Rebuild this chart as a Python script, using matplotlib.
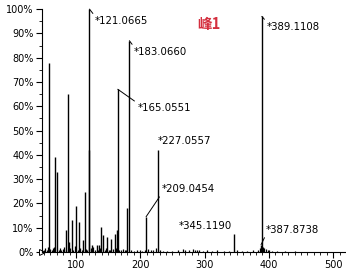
import numpy as np
import matplotlib.pyplot as plt
from matplotlib.ticker import MultipleLocator, FuncFormatter

plt.rcParams['font.family'] = ['DejaVu Sans']

# main peaks (m/z, relative intensity %)
mz_main = [58.3, 67.7, 70.8, 85.0, 88.0, 89.5, 94.0, 100.5, 105.0, 111.0,
           113.5, 119.8, 121.0665, 125.0, 132.0, 136.0, 139.5, 142.7, 149.0,
           155.0, 161.0, 164.5, 165.0551, 180.0, 183.0660, 209.0454,
           227.0557, 345.1190, 387.8738, 389.1108]
int_main = [78, 39, 33, 9, 65, 4, 13, 19, 12.5, 5,
            24.5, 42, 100, 3, 3, 3, 10.5, 7, 6,
            5.5, 7.5, 9, 67, 18, 87, 14.5,
            42, 7.5, 3, 97]

# baseline noise peaks
mz_noise = [50, 52, 55, 57, 60, 62, 64, 66, 73, 75, 77, 80, 82, 84, 91, 96,
            98, 103, 107, 109, 115, 117, 123, 127, 129, 134, 138, 145, 147,
            151, 153, 158, 163, 167, 170, 173, 176, 178, 186, 190, 195, 199,
            203, 207, 212, 216, 220, 225, 230, 236, 242, 250, 258, 266, 270,
            276, 282, 285, 288, 292, 297, 304, 312, 320, 330, 338, 350, 358,
            366, 375, 383, 386, 391, 393, 395, 398, 401, 405, 412, 425, 440]
int_noise = [1, 1.5, 0.8, 2, 1.2, 0.8, 1.5, 2, 1, 1.5, 0.8, 1.2, 2, 1, 1.5,
             1, 2.5, 1, 1.5, 0.8, 1.2, 1, 1.5, 2, 1, 0.8, 1.5, 1, 1.5,
             0.8, 1, 1.2, 1.5, 1, 0.8, 1.2, 1, 0.8, 1, 0.6, 0.8, 1,
             0.6, 0.8, 1.2, 1, 0.8, 1.5, 0.8, 0.6, 0.5, 0.6, 0.8, 1.2, 1,
             1, 1.2, 1, 0.8, 1, 0.6, 1, 0.6, 0.8, 0.5, 0.6, 0.8, 0.6,
             0.6, 0.8, 1, 1.5, 2, 1.5, 1.2, 1, 0.8, 0.6, 0.5, 0.4, 0.4]

# labelled peaks: (m/z, intensity, text x, text y, leader anchor)
labels = [
    (121.0665, 100, 129.7, 95.0, (0, 1)),
    (183.0660, 87, 190.6, 82.3, (0, 1)),
    (165.0551, 67, 195.3, 59.3, (0, 1)),
    (227.0557, 42, 226.6, 45.7, None),
    (209.0454, 14.5, 232.8, 25.9, (0, 0)),
    (345.1190, 7.5, 259.4, 10.7, None),
    (387.8738, 3, 395.3, 9.1, (0, 0)),
    (389.1108, 97, 396.9, 92.6, (0, 1)),
]

fig = plt.figure(figsize=(3.46, 2.72), dpi=100)
ax = fig.add_axes([0.121, 0.0735, 0.879, 0.893])

ax.vlines(mz_noise, 0, int_noise, color='black', lw=0.9)
ax.vlines(mz_main, 0, int_main, color='black', lw=1.0)

for mz, h, tx, ty, rp in labels:
    if rp is None:
        ax.text(tx, ty, '*%.4f' % mz, fontsize=7.3, ha='left', va='center')
    else:
        ax.annotate('*%.4f' % mz, xy=(mz, h), xytext=(tx, ty), fontsize=7.3,
                    ha='left', va='center',
                    arrowprops=dict(arrowstyle='-', lw=0.7, color='black',
                                    relpos=rp, shrinkA=0, shrinkB=0))

fig.text(209 / 346, 1 - 24 / 272, '峰1', color='#d42f3f', fontsize=10.5,
         fontweight='bold', ha='center', va='center',
         family=['Noto Sans CJK SC', 'DejaVu Sans'])

ax.plot([47], [0], marker='>', ms=5, mfc='white', mec='black', mew=0.7,
        clip_on=False)

ax.set_xlim(47, 520)
ax.set_ylim(0, 100)
ax.xaxis.set_major_locator(MultipleLocator(100))
ax.xaxis.set_minor_locator(MultipleLocator(10))
ax.yaxis.set_major_locator(MultipleLocator(10))
ax.yaxis.set_minor_locator(MultipleLocator(5))
ax.yaxis.set_major_formatter(FuncFormatter(lambda v, p: '%d%%' % v))
ax.tick_params(labelsize=7, length=4, width=0.8, pad=2)
ax.tick_params(which='minor', length=2, width=0.6)
for s in ['top', 'right']:
    ax.spines[s].set_visible(False)
for s in ['left', 'bottom']:
    ax.spines[s].set_linewidth(0.8)

fig.savefig('out.png', dpi=100)
